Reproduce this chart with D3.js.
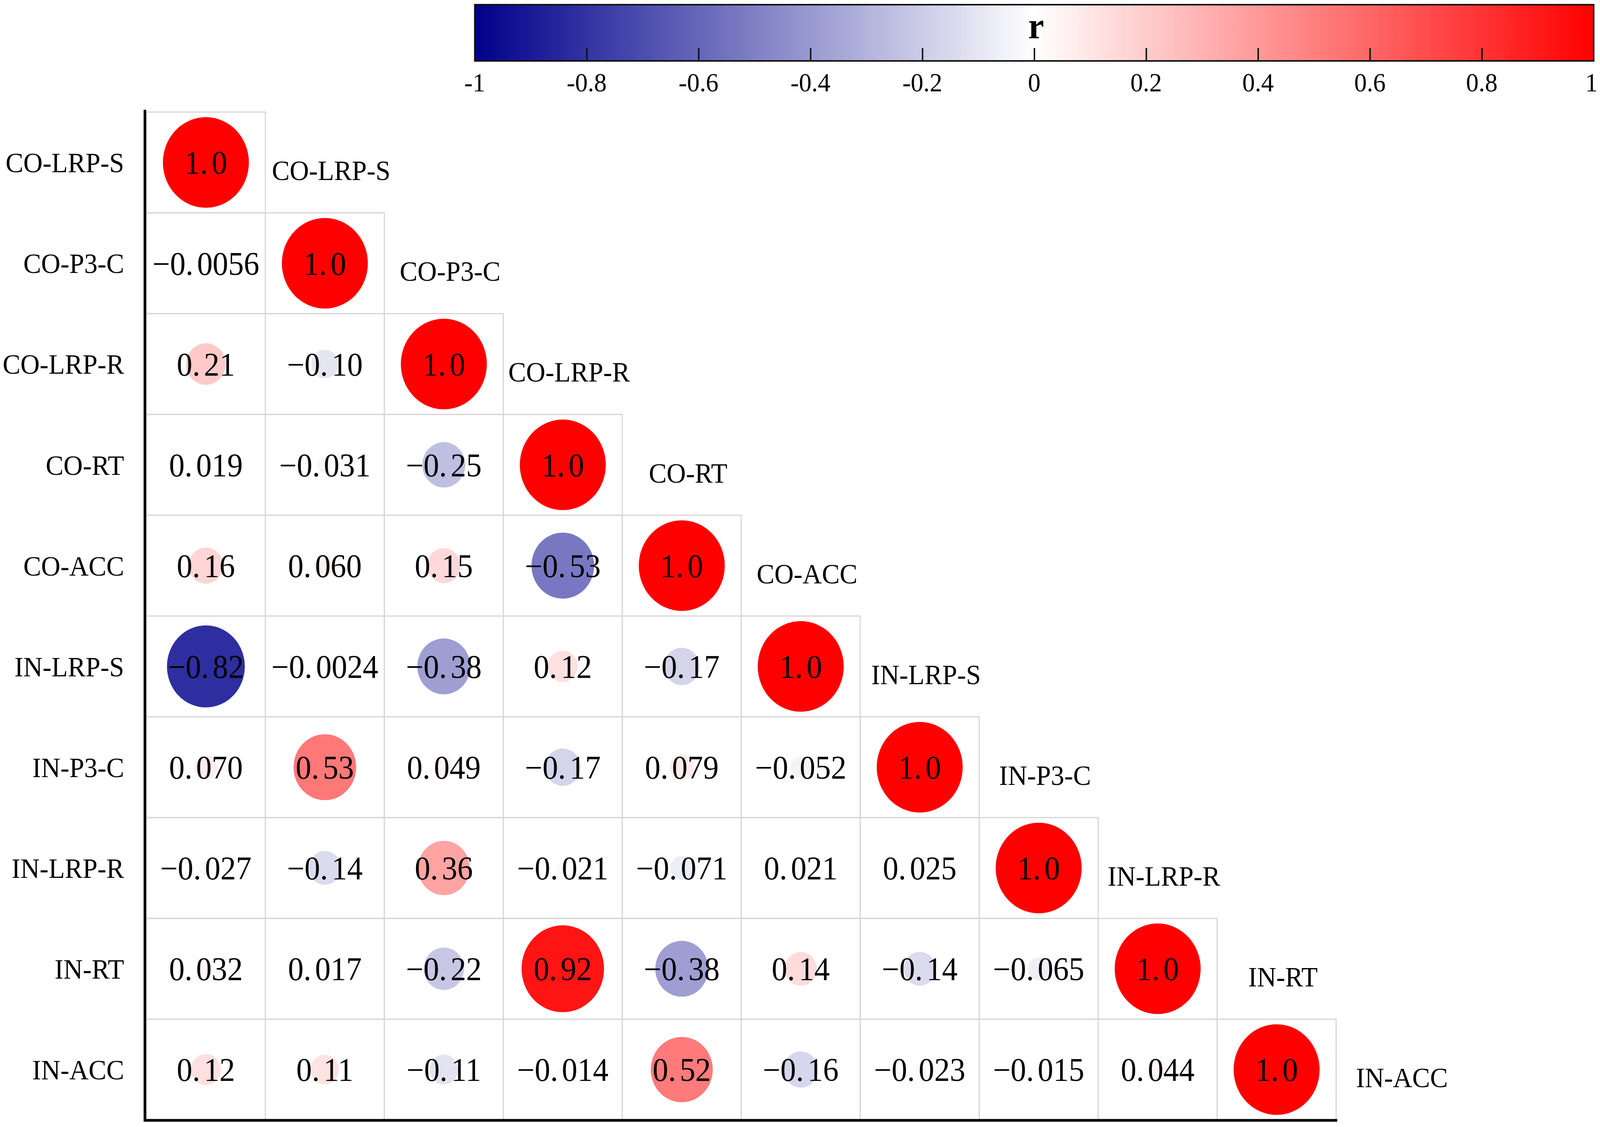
<!DOCTYPE html>
<html>
<head>
<meta charset="utf-8">
<script src="https://cdn.jsdelivr.net/npm/d3@7"></script>
<style>
  html, body { margin: 0; padding: 0; background: #fff; overflow: hidden; }
  svg { display: block; }
  text { font-family: 'Liberation Serif', 'Times New Roman', serif; fill: #000; }
</style>
</head>
<body>
<div id="chart"></div>
<script>
const variables = ['CO-LRP-S', 'CO-P3-C', 'CO-LRP-R', 'CO-RT', 'CO-ACC',
  'IN-LRP-S', 'IN-P3-C', 'IN-LRP-R', 'IN-RT', 'IN-ACC']

// lower triangle, row by row (diagonal = 1)
const rowCOLRPS = [1]
const rowCOP3C = [-0.0056, 1]
const rowCOLRPR = [0.21, -0.10, 1]
const rowCORT = [0.019, -0.031, -0.25, 1]
const rowCOACC = [0.16, 0.060, 0.15, -0.53, 1]
const rowINLRPS = [-0.82, -0.0024, -0.38, 0.12, -0.17, 1]
const rowINP3C = [0.070, 0.53, 0.049, -0.17, 0.079, -0.052, 1]
const rowINLRPR = [-0.027, -0.14, 0.36, -0.021, -0.071, 0.021, 0.025, 1]
const rowINRT = [0.032, 0.017, -0.22, 0.92, -0.38, 0.14, -0.14, -0.065, 1]
const rowINACC = [0.12, 0.11, -0.11, -0.014, 0.52, -0.16, -0.023, -0.015, 0.044, 1]

const colorTicks = [-1, -0.8, -0.6, -0.4, -0.2, 0, 0.2, 0.4, 0.6, 0.8, 1]

const rows = [rowCOLRPS, rowCOP3C, rowCOLRPR, rowCORT, rowCOACC,
  rowINLRPS, rowINP3C, rowINLRPR, rowINRT, rowINACC]

const cells = []
rows.forEach((vals, i) => {
  vals.forEach((v, j) => cells.push({ row: variables[i], col: variables[j], r: v }))
})

// drawing space is the reference size; the viewBox fits it to the window
const W = 4317
const H = 2886
const GRID = { LEFT: 395, RIGHT: 3605, TOP: 287, BOTTOM: 2868 }
const BAR = { LEFT: 1281, RIGHT: 4300, TOP: 12, BOTTOM: 156 }

const svg = d3.select('#chart')
  .append('svg')
  .attr('viewBox', `0 0 ${W} ${H}`)
  .attr('preserveAspectRatio', 'none')
  .style('width', '100vw')
  .style('height', '100vh')

const x = d3.scaleBand().domain(variables).range([GRID.LEFT, GRID.RIGHT])
const y = d3.scaleBand().domain(variables).range([GRID.TOP, GRID.BOTTOM])
const color = d3.scaleLinear().domain([-1, 0, 1]).range(['#00008b', '#ffffff', '#ff0000'])
const radius = d3.scaleSqrt().domain([0, 1]).range([0, 116])

// cell boxes
svg.append('g')
  .selectAll('rect')
  .data(cells)
  .join('rect')
  .attr('x', d => x(d.col))
  .attr('y', d => y(d.row))
  .attr('width', x.bandwidth())
  .attr('height', y.bandwidth())
  .attr('fill', 'none')
  .attr('stroke', '#d6d6d6')
  .attr('stroke-width', 3)

// circles
svg.append('g')
  .selectAll('circle')
  .data(cells)
  .join('circle')
  .attr('cx', d => x(d.col) + x.bandwidth() / 2)
  .attr('cy', d => y(d.row) + y.bandwidth() / 2)
  .attr('r', d => radius(Math.abs(d.r)))
  .attr('fill', d => color(d.r))

// values
const fmt = d3.format('.2g')
const vText = svg.append('g')
  .selectAll('text')
  .data(cells)
  .join('text')
  .attr('x', d => x(d.col) + x.bandwidth() / 2)
  .attr('y', d => y(d.row) + y.bandwidth() / 2)
  .attr('dy', '0.35em')
  .attr('text-anchor', 'middle')
  .attr('font-size', '84px')
vText.each(function (d) {
  const parts = fmt(d.r).split('.')
  const t = d3.select(this)
  t.append('tspan').text(parts[0] + '.')
  t.append('tspan').attr('dx', '0.12em').text(parts[1])
})

// row labels
svg.append('g')
  .selectAll('text')
  .data(variables)
  .join('text')
  .attr('x', 335)
  .attr('y', d => y(d) + y.bandwidth() / 2)
  .attr('dy', '0.35em')
  .attr('text-anchor', 'end')
  .attr('font-size', '72px')
  .text(d => d)

// diagonal labels
svg.append('g')
  .selectAll('text')
  .data(variables)
  .join('text')
  .attr('x', d => x(d) + x.bandwidth() * 1.5 + 17)
  .attr('y', d => y(d) + y.bandwidth() / 2 + 20)
  .attr('dy', '0.35em')
  .attr('text-anchor', 'middle')
  .attr('font-size', '72px')
  .text(d => d)

// axis lines
svg.append('line')
  .attr('x1', 391).attr('x2', 391)
  .attr('y1', 281).attr('y2', GRID.BOTTOM + 4)
  .attr('stroke', '#000').attr('stroke-width', 7)
svg.append('line')
  .attr('x1', 388).attr('x2', GRID.RIGHT + 3)
  .attr('y1', GRID.BOTTOM + 1).attr('y2', GRID.BOTTOM + 1)
  .attr('stroke', '#000').attr('stroke-width', 7)

// colour bar
const cx = d3.scaleLinear().domain([-1, 1]).range([BAR.LEFT, BAR.RIGHT])
const defs = svg.append('defs')
const grad = defs.append('linearGradient').attr('id', 'rgrad')
grad.selectAll('stop')
  .data(color.domain())
  .join('stop')
  .attr('offset', d => (cx(d) - BAR.LEFT) / (BAR.RIGHT - BAR.LEFT))
  .attr('stop-color', d => color(d))

svg.append('rect')
  .attr('x', BAR.LEFT)
  .attr('y', BAR.TOP)
  .attr('width', BAR.RIGHT - BAR.LEFT)
  .attr('height', BAR.BOTTOM - BAR.TOP)
  .attr('fill', 'url(#rgrad)')
  .attr('stroke', '#111')
  .attr('stroke-width', 4)

const barAxis = svg.append('g')
  .attr('transform', `translate(0, ${BAR.BOTTOM})`)
  .call(d3.axisTop(cx)
    .tickValues(colorTicks.slice(1, -1))
    .tickSize(33)
    .tickFormat(''))
barAxis.select('.domain').remove()
barAxis.selectAll('.tick line').attr('stroke', '#111').attr('stroke-width', 4)

svg.append('g')
  .selectAll('text')
  .data(colorTicks)
  .join('text')
  .attr('x', d => (d === 1 ? cx(d) - 6 : cx(d)))
  .attr('y', 234)
  .attr('text-anchor', 'middle')
  .attr('font-size', '68px')
  .text(d => (d === 0 ? '0' : String(+d.toFixed(1))))

svg.append('text')
  .attr('x', cx(0) + 5)
  .attr('y', 98)
  .attr('text-anchor', 'middle')
  .attr('font-size', '96px')
  .attr('font-weight', 'bold')
  .text('r')
</script>
</body>
</html>
